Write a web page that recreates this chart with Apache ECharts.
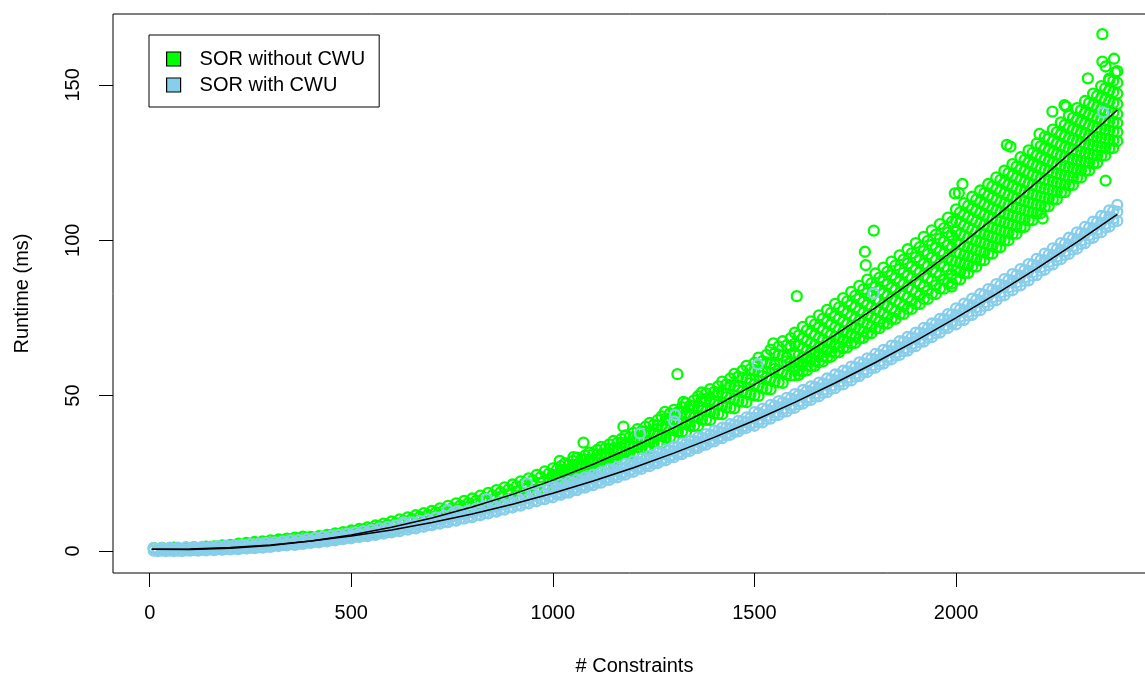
<!DOCTYPE html>
<html><head><meta charset="utf-8">
<script src="https://cdn.jsdelivr.net/npm/echarts@6/dist/echarts.min.js"></script>
<style>html,body{margin:0;padding:0;background:#fff}#c{width:1145px;height:678px}</style>
</head><body><div id="c"></div>
<script>
const seriesNames = ['SOR without CWU', 'SOR with CWU'];
const xTicks = [0, 500, 1000, 1500, 2000];
const yTicks = [0, 50, 100, 150];

// # constraints at which points are sampled
const stations = [10,20,30,40,50,60,70,80,90,100,110,120,130,140,150,160,170,180,190,200,
210,220,230,240,250,260,270,280,290,300,310,320,330,340,350,360,370,380,390,400,
410,420,430,440,450,460,470,480,490,500,510,520,530,540,550,560,570,580,590,600,
610,620,630,640,650,660,670,680,690,700,710,720,730,740,750,760,770,780,790,800,
810,820,830,840,850,860,870,880,890,900,910,920,930,940,950,960,970,980,990,1000,
1010,1020,1030,1040,1050,1060,1070,1080,1090,1100,1110,1120,1130,1140,1150,1160,1170,1180,1190,1200,
1210,1220,1230,1240,1250,1260,1270,1280,1290,1300,1310,1320,1330,1340,1350,1360,1370,1380,1390,1400,
1410,1420,1430,1440,1450,1460,1470,1480,1490,1500,1510,1520,1530,1540,1550,1560,1570,1580,1590,1600,
1610,1620,1630,1640,1650,1660,1670,1680,1690,1700,1710,1720,1730,1740,1750,1760,1770,1780,1790,1800,
1810,1820,1830,1840,1850,1860,1870,1880,1890,1900,1910,1920,1930,1940,1950,1960,1970,1980,1990,2000,
2010,2020,2030,2040,2050,2060,2070,2080,2090,2100,2110,2120,2130,2140,2150,2160,2170,2180,2190,2200,
2210,2220,2230,2240,2250,2260,2270,2280,2290,2300,2310,2320,2330,2340,2350,2360,2370,2380,2390,2400];

// runtime (ms) without CWU, one row per station
const greenY = [
[0.9],[0.5],[1.0],[0.7],[0.4],[1.1],[0.8],[0.5],[1.0],[0.7],
[1.2],[0.6],[1.0],[1.4],[0.9],[1.5],[1.1],[1.8],[1.4],[2.0],
[1.7],[2.4],[2.0],[2.6],[2.3],[2.9],[2.6],[3.1],[2.8],[3.4],
[3.1],[3.7],[3.4],[4.0],[3.7],[4.3],[4.0],[4.6],[4.3],
[4.5,2.9],[4.2,3.6],[4.8,3.1],[4.6,3.9],[5.2,3.4],[5.0,4.3],[5.7,3.8],[5.4,4.7],[6.1,4.2],[5.9,5.1],
[6.6,4.6],[6.3,5.6],[7.1,5.0],[6.9,6.0],[7.6,5.4],[7.3,6.6],[8.2,5.9],[7.9,7.1],[8.8,6.4],[8.4,7.6],
[9.5,6.9],[9.0,8.2],[10.2,7.4],[9.7,8.7],[10.8,7.9],[10.3,9.3],[11.5,8.5],[11.0,9.9],[12.2,9.1],[11.6,10.6],
[12.9,9.7],[12.4,11.3],[13.7,10.3],[13.1,12.0],[14.5,10.9],[13.8,12.7],[15.3,11.5],[14.6,13.4],[16.1,12.2],[15.4,14.2],
[16.9,12.9],[16.2,15.0],[17.8,13.6],[17.1,15.8],[18.7,14.3],[18.0,16.6],[19.6,15.0],[18.9,17.4],[20.5,15.8],[19.8,18.3],
[21.4,16.6],[20.8,19.2],[22.4,17.5],[21.8,20.1],[23.4,18.3],[22.8,21.0],[24.5,19.1],[23.8,22.0],[25.6,20.0],[24.9,23.0],
[26.6,24.5,22.3,20.8],[26.2,23.9,22.1,24.5],[27.3,26.1,23.8,22.1],[28.3,26.1,23.7,22.2],[27.8,25.4,23.5,26.0],
[29.0,27.8,25.3,23.5],[30.0,27.7,25.2,23.6],[29.5,27.0,24.9,27.6],[30.7,29.4,26.8,25.0],[31.7,29.3,26.8,25.0],
[31.2,28.6,26.5,29.2],[32.5,31.1,28.4,26.5],[33.5,31.0,28.4,26.5],[33.0,30.2,28.0,30.9],[34.3,32.9,30.1,28.0],
[35.4,32.8,30.0,28.1],[34.8,31.9,29.6,32.6],[36.1,34.7,31.8,29.6],[37.2,34.6,31.7,29.6],[36.6,33.7,31.3,34.4],
[38.0,36.5,33.5,31.3],[39.2,36.4,33.4,31.3],[38.6,35.5,33.0,36.3],[40.0,38.5,35.3,33.0],[41.2,38.3,35.2,33.0],
[40.6,37.4,34.7,38.2],[42.1,40.4,37.2,34.7],[43.3,40.3,37.0,34.7],[42.6,39.2,36.5,40.1],[44.2,42.4,39.0,36.5],
[45.4,42.3,38.9,36.5],[44.7,41.2,38.4,42.1],[46.3,44.5,41.0,38.3],[47.6,44.3,40.8,38.3],[46.8,43.2,40.3,44.1],
[48.5,46.6,43.0,40.2],[49.8,46.4,42.8,40.2],[49.0,45.2,42.2,46.2],[50.7,48.8,45.0,42.2],[52.1,48.5,44.8,42.1],
[51.2,47.3,44.2,48.3],[53.0,51.0,47.1,44.1],[54.5,50.8,46.8,44.0],[53.6,49.5,46.2,50.5],[55.5,53.4,49.2,46.1],
[57.0,53.1,48.9,45.9],[56.1,51.7,48.2,52.8],[58.0,55.8,51.3,48.1],[59.6,55.4,51.0,47.9],[58.5,54.0,50.3,55.1],
[60.5,58.2,53.6,50.1],[62.2,57.8,53.2,49.9],[61.1,56.3,52.4,57.5],[63.1,60.7,55.8,52.2],[64.8,60.3,55.4,52.0],
[63.6,58.6,54.6,59.9],[65.8,63.2,58.1,54.3],[67.5,62.8,57.7,54.1],[66.2,61.0,56.8,62.3],[68.5,65.8,60.5,56.5],
[70.3,66.7,63.5,60.8,58.8,56.5],[69.4,66.0,63.0,60.5,58.2,56.7],[72.1,68.4,65.2,62.4,60.3,57.9],[71.1,67.7,64.6,62.1,59.7,58.1],
[73.9,70.1,66.9,64.0,61.8,59.4],[72.9,69.4,66.3,63.7,61.2,59.6],[75.8,71.9,68.6,65.6,63.4,60.8],[74.8,71.2,68.0,65.3,62.7,61.0],
[77.6,73.7,70.3,67.2,64.9,62.3],[76.6,72.9,69.7,66.9,64.2,62.5],[79.5,75.5,72.0,68.9,66.5,63.8],[78.4,74.7,71.4,68.5,65.8,64.0],
[81.4,77.4,73.8,70.6,68.1,65.3],[80.3,76.5,73.1,70.2,67.4,65.5],[83.4,79.2,75.6,72.3,69.8,66.9],[82.2,78.4,74.9,71.9,69.0,67.0],
[85.3,81.1,77.4,74.1,71.4,68.4],[84.2,80.2,76.7,73.6,70.6,68.6],[87.3,83.0,79.2,75.8,73.1,70.0],[86.1,82.1,78.5,75.3,72.2,70.1],
[89.3,84.9,81.0,77.6,74.8,71.6],[88.0,83.9,80.3,77.0,73.8,71.7],[91.2,86.8,82.9,79.4,76.5,73.2],[89.9,85.8,82.1,78.8,75.4,73.2],
[93.1,88.7,84.7,81.2,78.1,74.7],[91.9,87.7,84.0,80.5,77.1,74.7],[95.1,90.6,86.6,83.0,79.9,76.3],[93.8,89.6,85.9,82.3,78.7,76.3],
[97.1,92.5,88.5,84.9,81.6,77.9],[95.8,91.5,87.8,84.1,80.4,77.9],[99.1,94.5,90.5,86.7,83.3,79.5],[97.8,93.5,89.7,85.9,82.1,79.5],
[101.1,96.5,92.4,88.6,85.1,81.1],[99.8,95.5,91.6,87.8,83.8,81.1],[103.2,98.5,94.4,90.5,86.9,82.8],[101.8,97.5,93.6,89.7,85.5,82.7],
[105.2,100.5,96.4,92.5,88.7,84.5],[103.9,99.5,95.6,91.5,87.2,84.4],[107.3,102.5,98.4,94.4,90.6,86.2],[106.0,101.5,97.6,93.4,89.0,86.1],
[109.9,106.2,102.7,99.3,96.1,93.2,90.3,87.4],[109.0,105.4,101.9,98.7,95.7,92.7,89.8,87.4],[111.9,108.2,104.7,101.3,98.1,95.2,92.3,89.4],
[111.1,107.5,104.0,100.8,97.8,94.8,91.9,89.5],[114.0,110.2,106.7,103.4,100.2,97.3,94.4,91.5],[113.1,109.5,106.0,102.8,99.8,96.8,93.9,91.5],
[116.0,112.3,108.8,105.4,102.2,99.3,96.4,93.5],[115.2,111.6,108.1,104.9,101.9,98.9,96.0,93.6],[118.1,114.4,110.9,107.5,104.3,101.4,98.5,95.6],
[117.3,113.7,110.2,107.0,104.0,101.0,98.1,95.7],[120.2,116.5,113.0,109.6,106.4,103.5,100.6,97.7],[119.4,115.8,112.3,109.1,106.1,103.1,100.2,97.8],
[122.4,118.6,115.1,111.8,108.6,105.7,102.8,99.9],[121.6,118.0,114.5,111.3,108.3,105.3,102.4,100.0],[124.5,120.8,117.3,113.9,110.7,107.8,104.9,102.0],
[123.7,120.1,116.6,113.4,110.4,107.4,104.5,102.1],[126.7,123.0,119.5,116.1,112.9,110.0,107.1,104.2],[125.9,122.3,118.8,115.6,112.6,109.6,106.7,104.3],
[128.9,125.1,121.6,118.3,115.1,112.2,109.3,106.4],[128.1,124.5,121.0,117.8,114.8,111.8,108.9,106.5],[131.1,127.4,123.9,120.5,117.3,114.4,111.5,108.6],
[130.3,126.7,123.2,120.0,117.0,114.0,111.1,108.7],[133.3,129.6,126.1,122.7,119.5,116.6,113.7,110.8],[132.6,129.0,125.5,122.3,119.3,116.3,113.4,111.0],
[135.6,131.9,128.4,125.0,121.8,118.9,116.0,113.1],[134.8,131.2,127.7,124.5,121.5,118.5,115.6,113.2],[137.9,134.1,130.6,127.3,124.1,121.2,118.3,115.4],
[137.1,133.5,130.0,126.8,123.8,120.8,117.9,115.5],[140.2,136.4,132.9,129.6,126.4,123.5,120.6,117.7],[139.4,135.8,132.3,129.1,126.1,123.1,120.2,117.8],
[142.5,138.8,135.3,131.9,128.7,125.8,122.9,120.0],[141.8,138.2,134.7,131.5,128.5,125.5,122.6,120.2],[144.8,141.1,137.6,134.2,131.0,128.1,125.2,122.3],
[144.1,140.5,137.0,133.8,130.8,127.8,124.9,122.5],[147.2,143.5,140.0,136.6,133.4,130.5,127.6,124.7],[146.5,142.9,139.4,136.2,133.2,130.2,127.3,124.9],
[149.6,145.8,142.3,139.0,135.8,132.9,130.0,127.1],[148.9,145.3,141.8,138.6,135.6,132.6,129.7,127.3],[152.0,148.2,144.7,141.4,138.2,135.3,132.4,129.5],
[151.3,147.7,144.2,141.0,138.0,135.0,132.1,129.7],[154.4,150.7,147.2,143.8,140.6,137.7,134.8,131.9]
];

// runtime (ms) with CWU, one row per station
const blueY = [
[1.0,0.1],[0.6,0.0],[1.0,0.1],[0.6,0.0],[1.1,0.1],[0.6,0.0],[1.1,0.1],[0.7,0.0],[1.2,0.2],[0.7,0.1],
[1.2,0.3],[0.8,0.1],[1.3,0.4],[0.9,0.2],[1.4,0.5],[1.1,0.3],[1.6,0.6],[1.2,0.4],[1.7,0.7],[1.3,0.5],
[1.8,0.8],[1.5,0.6],[2.0,0.9],[1.6,0.8],[2.2,1.1],[1.8,0.9],[2.4,1.2],[2.0,1.1],[2.6,1.4],[2.2,1.3],
[2.8,1.7],[2.4,1.6],[3.1,1.9],[2.6,1.8],[3.4,2.2],[2.9,2.0],[3.6,2.4],[3.2,2.3],[3.9,2.7],[3.5,2.6],
[4.2,3.0],[3.8,2.8],[4.6,3.2],[4.1,3.1],[4.9,3.5],[4.4,3.4],[5.2,3.9],[4.7,3.8],[5.6,4.2],[5.1,4.1],
[6.0,4.6],[5.5,4.5],[6.4,4.9],[5.9,4.8],[6.8,5.3],[6.3,5.2],[7.3,5.7],[6.7,5.6],[7.7,6.1],[7.1,6.0],
[8.2,6.5],[7.6,6.4],[8.7,7.0],[8.1,6.9],[9.2,7.4],[8.5,7.3],[9.7,7.9],[9.0,7.8],[10.2,8.4],[9.6,8.3],
[10.8,8.9],[10.1,8.8],[11.3,9.4],[10.6,9.3],[11.9,9.9],[11.2,9.8],[12.5,10.5],[11.8,10.4],[13.1,11.0],[12.4,10.9],
[13.7,11.6],[13.0,11.5],[14.4,12.2],[13.6,12.1],[15.0,12.8],[14.2,12.7],[15.7,13.4],[14.9,13.3],[16.4,14.1],[15.6,14.0],
[17.1,14.7],[16.3,14.6],[17.8,15.4],[16.9,15.3],[18.5,16.1],[17.7,16.0],[19.3,16.8],[18.4,16.7],[20.0,17.5],
[20.7,19.2,17.3],[20.4,18.7,18.1],[21.5,20.0,18.1],[21.1,19.4,18.8],[22.2,20.7,18.8],[21.9,20.2,19.6],[23.0,21.5,19.6],[22.7,21.0,20.4],[23.8,22.3,20.4],[23.5,21.8,21.2],
[24.6,23.1,21.2],[24.3,22.6,22.0],[25.4,23.9,22.0],[25.2,23.5,22.9],[26.3,24.8,22.9],[26.0,24.3,23.7],[27.1,25.6,23.7],[26.9,25.2,24.6],[28.0,26.5,24.6],[27.8,26.1,25.5],
[28.9,27.4,25.5],[28.7,27.0,26.4],[29.8,28.3,26.4],[29.6,27.9,27.3],[30.7,29.2,27.3],[30.5,28.8,28.2],[31.7,30.2,28.3],[31.4,29.7,29.1],[32.6,31.1,29.2],[32.4,30.7,30.1],
[33.6,32.1,30.2],[33.4,31.7,31.1],[34.6,33.1,31.2],[34.4,32.7,32.1],[35.6,34.1,32.2],[35.4,33.7,33.1],[36.6,35.1,33.2],[36.4,34.7,34.1],[37.6,36.1,34.2],[37.4,35.7,35.1],
[38.7,37.2,35.3],[38.5,36.8,36.2],[39.7,38.2,36.3],[39.6,37.9,37.3],[40.8,39.3,37.4],[40.6,38.9,38.3],[41.9,40.4,38.5],[41.7,40.0,39.4],[43.0,41.5,39.6],[42.8,41.1,40.5],
[44.7,42.8,40.3],[44.4,42.3,41.4],[45.8,43.9,41.4],[45.5,43.4,42.5],[47.0,45.1,42.6],[46.7,44.6,43.7],[48.2,46.3,43.8],[47.8,45.7,44.8],[49.3,47.4,44.9],[49.0,46.9,46.0],
[50.5,48.6,46.1],[50.2,48.1,47.2],[51.8,49.9,47.4],[51.5,49.4,48.5],[53.0,51.1,48.6],[52.7,50.6,49.7],[54.2,52.3,49.8],[53.9,51.8,50.9],[55.5,53.6,51.1],[55.2,53.1,52.2],
[56.8,54.9,52.4],[56.5,54.4,53.5],[58.0,56.1,53.6],[57.8,55.7,54.8],[59.3,57.4,54.9],[59.1,57.0,56.1],[60.7,58.8,56.3],[60.4,58.3,57.4],[62.0,60.1,57.6],[61.8,59.7,58.8],
[63.4,61.5,59.0],[63.1,61.0,60.1],[64.7,62.8,60.3],[64.5,62.4,61.5],[66.1,64.2,61.7],[65.9,63.8,62.9],[67.5,65.6,63.1],[67.3,65.2,64.3],[68.9,67.0,64.5],[68.7,66.6,65.7],
[70.3,68.4,65.9],[70.2,68.1,67.2],[71.8,69.9,67.4],[71.6,69.5,68.6],[73.2,71.3,68.8],[73.1,71.0,70.1],[74.7,72.8,70.3],[74.6,72.5,71.6],[76.2,74.3,71.8],[76.1,74.0,73.1],
[78.1,75.9,72.9],[77.8,75.4,74.3],[79.6,77.4,74.4],[79.3,76.9,75.8],[81.2,79.0,76.0],[80.8,78.4,77.3],[82.7,80.5,77.5],[82.4,80.0,78.9],[84.3,82.1,79.1],[84.0,81.6,80.5],
[85.9,83.7,80.7],[85.6,83.2,82.1],[87.5,85.3,82.3],[87.2,84.8,83.7],[89.1,86.9,83.9],[88.8,86.4,85.3],[90.7,88.5,85.5],[90.4,88.0,86.9],[92.3,90.1,87.1],[92.1,89.7,88.6],
[94.0,91.8,88.8],[93.7,91.3,90.2],[95.7,93.5,90.5],[95.4,93.0,91.9],[97.4,95.2,92.2],[97.1,94.7,93.6],[99.1,96.9,93.9],[98.8,96.4,95.3],[100.8,98.6,95.6],[100.5,98.1,97.0],
[102.5,100.3,97.3],[102.3,99.9,98.8],[104.3,102.1,99.1],[104.0,101.6,100.5],[106.0,103.8,100.8],[105.8,103.4,102.3],[107.8,105.6,102.6],[107.6,105.2,104.1],[109.6,107.4,104.4],[109.4,107.0,105.9],
[111.4,109.2,106.2]
];

// isolated points [constraints, ms]
const greenOutliers = [[1017,29.0],[1051,30.2],[1076,34.9],[1175,40.0],[1278,44.8],[1309,56.9],[1324,48.0],[1369,51.0],
[1547,66.8],[1605,82.0],[1774,96.3],[1776,92.0],[1796,103.1],[1989,85.1],[1997,115.1],[2007,115.2],[2016,118.1],
[2126,130.7],[2135,130.1],[2207,134.2],[2215,107.0],[2239,141.4],[2269,143.5],[2273,143.0],[2327,152.1],[2363,166.3],
[2363,157.5],[2371,155.9],[2380,151.5],[2392,158.4],[2395,154.0],[2371,119.2]];
const blueOutliers = [[630,9.2],[739,13.2],[764,12.9],[836,16.8],[936,21.8],[1216,37.8],[1301,41.7],[1303,43.8],
[1508,60.1],[1796,82.9],[2365,141.1]];

// fitted curves
const fitX = [5,100,200,300,400,500,600,700,800,900,1000,1100,1200,1300,1400,1500,1600,1700,1800,1900,2000,2100,2200,2300,2400];
const greenFit = [0.58,0.46,0.85,1.76,3.19,5.15,7.63,10.64,14.17,18.22,22.8,27.9,33.53,39.68,46.35,53.55,61.27,69.52,78.29,87.58,97.4,107.74,118.61,130.0,141.9];
const blueFit = [0.59,0.67,1.13,1.97,3.19,4.8,6.79,9.17,11.93,15.07,18.6,22.51,26.81,31.49,36.55,42.0,47.83,54.05,60.65,67.63,75.0,82.75,90.89,99.41,108.31];

const GREEN = '#00FF00', BLUE = '#87CEEB';
const FONT = 'Liberation Sans, Arial, sans-serif';

function pairs(xs, rows) {
  const out = [];
  xs.forEach((x, i) => rows[i].forEach(y => out.push([x, y])));
  return out;
}
const greenData = pairs(stations, greenY).concat(greenOutliers);
const blueData = pairs(stations, blueY).concat(blueOutliers);

const chart = echarts.init(document.getElementById('c'), null, {renderer: 'canvas'});
const scatterStyle = c => ({
  type: 'scatter', symbol: 'circle', symbolSize: 10, large: false,
  itemStyle: {color: 'rgba(0,0,0,0)', borderColor: c, borderWidth: 2.3, opacity: 1},
  emphasis: {disabled: true}
});
const plain = v => String(v);
chart.setOption({
  animation: false,
  textStyle: {fontFamily: FONT},
  grid: {left: 113, top: 14, width: 1043, height: 559, outerBoundsMode: 'none', containLabel: false,
         show: true, borderColor: '#000', borderWidth: 1, backgroundColor: 'transparent'},
  legend: {
    data: [
      {name: seriesNames[0], icon: 'rect', itemStyle: {color: GREEN, borderColor: '#000', borderWidth: 1.2, opacity: 1}},
      {name: seriesNames[1], icon: 'rect', itemStyle: {color: BLUE, borderColor: '#000', borderWidth: 1.2, opacity: 1}}
    ],
    orient: 'vertical', left: 149, top: 35,
    itemWidth: 14, itemHeight: 14, itemGap: 6,
    padding: [14, 14, 12, 17],
    borderColor: '#000', borderWidth: 1, backgroundColor: '#fff',
    selectedMode: false,
    textStyle: {fontSize: 20, color: '#000', fontFamily: FONT, padding: [0, 0, 0, 14]}
  },
  xAxis: {
    type: 'value', min: -91, max: 2496,
    axisLine: {show: false, onZero: false},
    splitLine: {show: false},
    axisTick: {show: true, customValues: xTicks, length: 14, lineStyle: {color: '#000', width: 1}},
    axisLabel: {customValues: xTicks, formatter: plain, fontSize: 20, color: '#000', margin: 30, fontFamily: FONT},
    name: '# Constraints', nameLocation: 'middle', nameGap: 83,
    nameTextStyle: {fontSize: 20, color: '#000', fontFamily: FONT}
  },
  yAxis: {
    type: 'value', min: -7.08, max: 172.8,
    axisLine: {show: false, onZero: false},
    splitLine: {show: false},
    axisTick: {show: true, customValues: yTicks, length: 14, lineStyle: {color: '#000', width: 1}},
    axisLabel: {customValues: yTicks, formatter: plain, fontSize: 20, color: '#000', margin: 30, rotate: 90, fontFamily: FONT},
    name: 'Runtime (ms)', nameLocation: 'middle', nameGap: 81,
    nameTextStyle: {fontSize: 20, color: '#000', fontFamily: FONT}
  },
  series: [
    Object.assign({name: seriesNames[0], data: greenData, z: 2}, scatterStyle(GREEN)),
    Object.assign({name: seriesNames[1], data: blueData, z: 3}, scatterStyle(BLUE)),
    {name: 'fit1', type: 'line', data: fitX.map((x, i) => [x, greenFit[i]]), showSymbol: false, silent: true,
     lineStyle: {color: '#000', width: 1.5}, z: 5},
    {name: 'fit2', type: 'line', data: fitX.map((x, i) => [x, blueFit[i]]), showSymbol: false, silent: true,
     lineStyle: {color: '#000', width: 1.5}, z: 5}
  ]
});
</script>
</body></html>
